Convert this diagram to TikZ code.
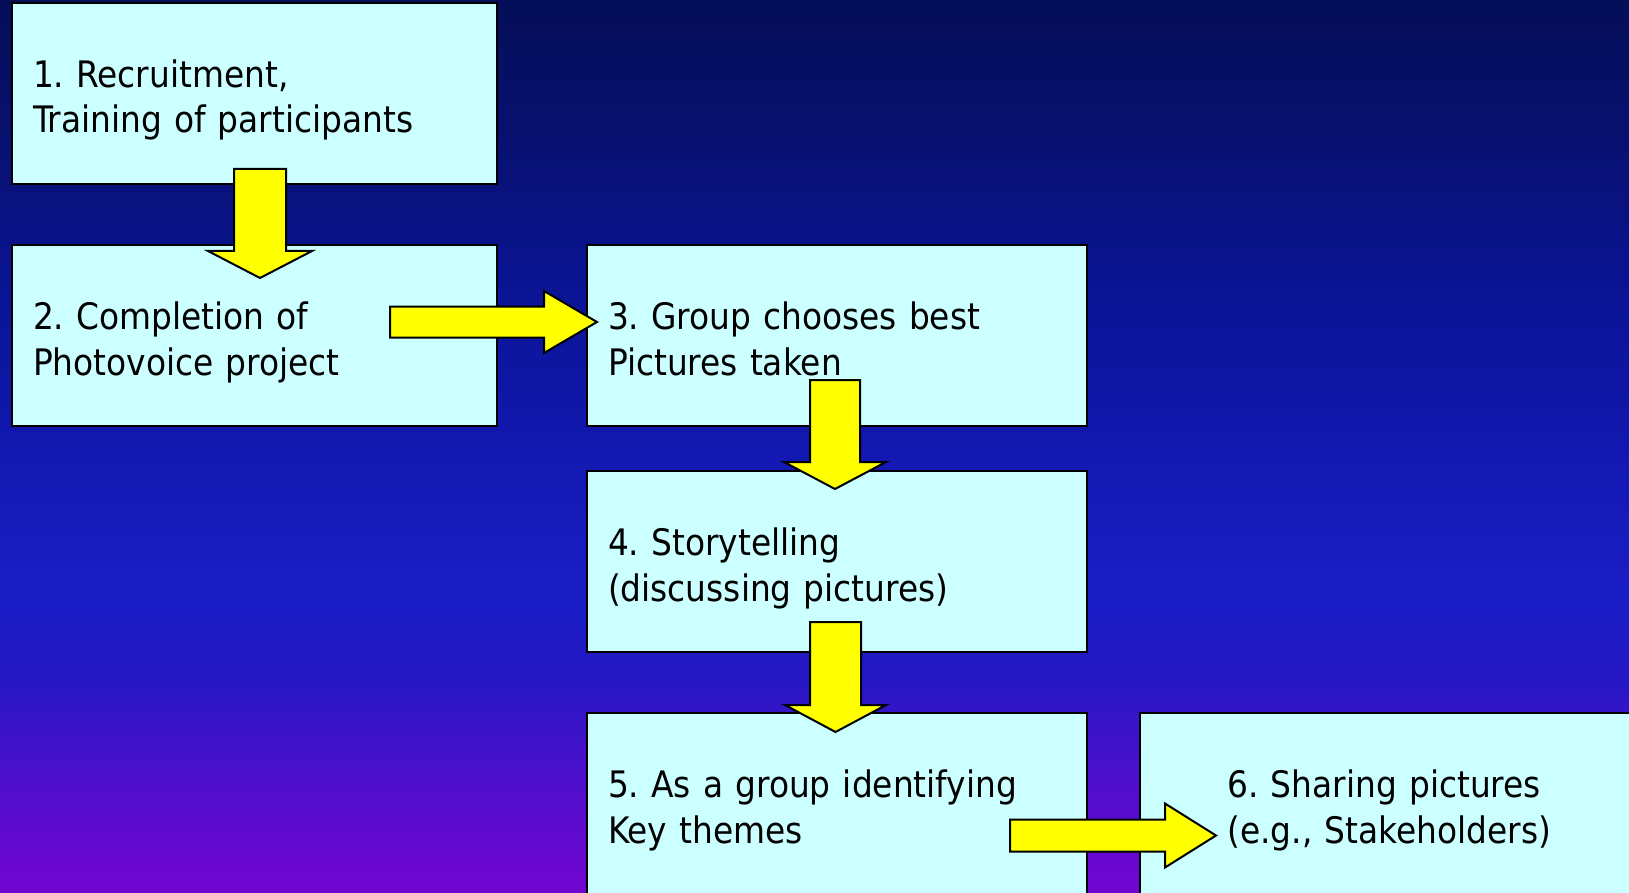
\documentclass[tikz,border=0pt]{standalone}
\usepackage{fontspec}
\setmainfont{DejaVu Sans Condensed}
\usepackage{tikz}
\usetikzlibrary{positioning,calc}
\frenchspacing

\definecolor{bgA}{HTML}{050E58}
\definecolor{bgB}{HTML}{08106E}
\definecolor{bgC}{HTML}{0A1494}
\definecolor{bgD}{HTML}{1218B0}
\definecolor{bgE}{HTML}{1A1EC6}
\definecolor{bgF}{HTML}{2618C5}
\definecolor{bgG}{HTML}{4810CC}
\definecolor{bgH}{HTML}{7205D0}
\definecolor{boxcyan}{HTML}{CCFFFF}
\definecolor{arryellow}{HTML}{FFFF00}

\pgfdeclareverticalshading{bgshade}{100bp}{color(0bp)=(bgH); color(25bp)=(bgH);
  color(32.28bp)=(bgG); color(36.93bp)=(bgF); color(41.4bp)=(bgE); color(49.8bp)=(bgD);
  color(58.76bp)=(bgC); color(67.72bp)=(bgB); color(75bp)=(bgA); color(100bp)=(bgA)}

% block arrows: start, tip, shaft half width, head half width, head length
\newcommand{\blockdown}[5]{%
  \draw[blockarr] let \p1=(#1), \p2=(#2) in
    (\x1-#3,\y1) -- (\x1+#3,\y1) -- (\x1+#3,\y2+#5) -- (\x1+#4,\y2+#5)
    -- (\x1,\y2) -- (\x1-#4,\y2+#5) -- (\x1-#3,\y2+#5) -- cycle;}
\newcommand{\blockright}[5]{%
  \draw[blockarr] let \p1=(#1), \p2=(#2) in
    (\x1,\y1+#3) -- (\x2-#5,\y1+#3) -- (\x2-#5,\y1+#4) -- (\x2,\y1)
    -- (\x2-#5,\y1-#4) -- (\x2-#5,\y1-#3) -- (\x1,\y1-#3) -- cycle;}

\begin{document}
\begin{tikzpicture}[x=1pt, y=1pt,
	stepbox/.style={draw=black, fill=boxcyan, line width=2.4pt, outer sep=0pt,
		inner xsep=21pt, inner ysep=0pt, minimum height=181pt, align=left,
		font=\fontsize{36.5}{45.5}\selectfont, text height=42pt, text depth=54pt},
	blockarr/.style={draw=black, fill=arryellow, line width=2pt}]

	% Background
	\useasboundingbox (0,0) rectangle (1629,-893);
	\clip (0,0) rectangle (1629,-893);
	\shade[shading=bgshade] (0,0) rectangle (1629,-893);

	% Nodes {s1, s2, s3, s4, s5, s6}
	\node [stepbox, text width=443pt] 	(s1) at (254.5,-93.5) 	{1. Recruitment,\\Training of participants};
	\node [stepbox, text width=443pt] 	(s2) [below=61pt of s1] {2. Completion of\\Photovoice project};
	\node [stepbox, text width=458pt] 	(s3) [right=90pt of s2] {3. Group chooses best\\Pictures taken};
	\node [stepbox, text width=458pt] 	(s4) [below=45pt of s3] {4. Storytelling\\(discussing pictures)};
	\node [stepbox, text width=458pt] 	(s5) [below=61pt of s4] {5. As a group identifying\\Key themes};
	\node [stepbox, text width=325pt, minimum width=500pt] (s6) [right=53pt of s5] {6. Sharing pictures\\(e.g., Stakeholders)};

	% Arrows
	\blockdown{$(s1.south)+(5.5,15)$}{$(s2.north)+(5.5,-33)$}{26pt}{52pt}{27pt}
	\blockright{$(s2.east)+(-107,13.5)$}{$(s3.west)+(10,13.5)$}{15.5pt}{31pt}{53pt}
	\blockdown{$(s3.south)+(-2,46)$}{$(s4.north)+(-2,-18)$}{25pt}{51pt}{27pt}
	\blockdown{$(s4.south)+(-1.5,30)$}{$(s5.north)+(-1.5,-19)$}{25.5pt}{50.5pt}{27pt}
	\blockright{$(s5.east)+(-77,-32)$}{$(s6.west)+(76,-32)$}{16pt}{32pt}{51pt}

\end{tikzpicture}
\end{document}
